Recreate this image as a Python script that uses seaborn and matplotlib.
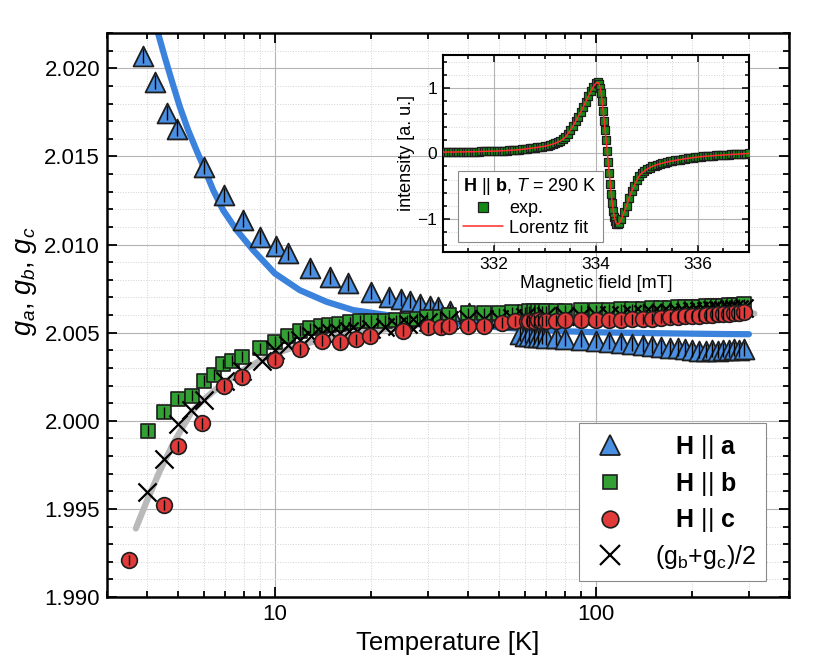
import matplotlib
matplotlib.use('Agg')
import matplotlib.pyplot as plt
from matplotlib import ticker
from matplotlib.lines import Line2D
import seaborn as sns

# ---- g-factors vs temperature ----
T_a = [3.88, 4.23, 4.6, 4.95, 6.03, 6.95, 7.96, 8.98, 10.07, 10.96, 12.9, 14.9, 16.9,
       20.0, 22.7, 24.8, 26.3, 28.3, 30.4, 32.2, 35.1, 40.4, 45.1, 50, 55, 58, 60, 62,
       64, 66, 68, 70, 75, 80, 90, 100, 110, 120, 130, 140, 150, 160, 170, 180, 190,
       200, 210, 220, 230, 240, 250, 260, 270, 280, 290]
g_a = [2.0207, 2.0192, 2.01747, 2.01658, 2.01441, 2.0128, 2.01138, 2.01044, 2.00993,
       2.0095, 2.00865, 2.00817, 2.00779, 2.00728, 2.0070, 2.00691, 2.00677, 2.00663,
       2.00653, 2.00647, 2.00625, 2.00609, 2.00596, 2.0059, 2.0058, 2.0049, 2.00483,
       2.0048, 2.00478, 2.00476, 2.00474, 2.00472, 2.0047, 2.00465, 2.0046, 2.00452,
       2.00445, 2.0044, 2.00435, 2.0043, 2.00425, 2.0042, 2.00415, 2.0041, 2.00405,
       2.0040, 2.00398, 2.00395, 2.0040, 2.00398, 2.00402, 2.0040, 2.00405, 2.00402,
       2.00408]

T_b = [4.03, 4.52, 5.0, 5.53, 6.03, 6.46, 6.9, 7.37, 7.93, 8.98, 10.0, 11.0, 12.0, 12.9,
       13.9, 14.8, 15.9, 17.1, 18.4, 20.0, 22.0, 23.9, 25.8, 27.8, 29.8, 32.7, 35, 40,
       45, 50, 55, 60, 62, 64, 66, 68, 70, 75, 80, 90, 100, 110, 120, 130, 140, 150,
       160, 170, 180, 190, 200, 210, 220, 230, 240, 250, 260, 270, 280, 290]
g_b = [1.99944, 2.00048, 2.00124, 2.00143, 2.00228, 2.00262, 2.00323, 2.00341, 2.00364,
       2.00411, 2.00449, 2.0048, 2.00511, 2.00527, 2.0054, 2.00545, 2.0055, 2.00558,
       2.00568, 2.00568, 2.00568, 2.00572, 2.00572, 2.0058, 2.00587, 2.0059, 2.006,
       2.0061, 2.0061, 2.00612, 2.00615, 2.00618, 2.0062, 2.0062, 2.0062, 2.00621,
       2.00622, 2.00623, 2.00624, 2.00626, 2.00628, 2.0063, 2.00632, 2.00634, 2.00636,
       2.00638, 2.0064, 2.00642, 2.00644, 2.00645, 2.00647, 2.00648, 2.0065, 2.00651,
       2.00652, 2.00653, 2.00655, 2.00656, 2.00658, 2.0066]

T_c = [3.51, 4.52, 5.0, 5.93, 6.94, 7.91, 10.0, 12.0, 14.0, 16.0, 17.9, 19.8, 25.0,
       30.0, 32.9, 35, 40, 45, 51, 56, 61, 62, 64, 66, 68, 70, 75, 80, 90, 100, 110,
       120, 130, 140, 150, 160, 170, 180, 190, 200, 210, 220, 230, 240, 250, 260, 270,
       280, 290]
g_c = [1.99211, 1.99523, 1.99855, 1.99986, 2.002, 2.00251, 2.00347, 2.00405, 2.00455,
       2.00445, 2.00462, 2.00483, 2.00511, 2.0053, 2.0053, 2.0054, 2.0054, 2.0054,
       2.00556, 2.00565, 2.00568, 2.00566, 2.00568, 2.0057, 2.00566, 2.00568, 2.00568,
       2.0057, 2.0057, 2.0057, 2.0057, 2.00572, 2.00575, 2.00578, 2.0058, 2.00583,
       2.00586, 2.0059, 2.00592, 2.00595, 2.00597, 2.006, 2.00602, 2.00604, 2.00606,
       2.00608, 2.0061, 2.00612, 2.00615]

T_avg = [4.0, 4.51, 5.0, 5.48, 6.03, 7.0, 7.88, 9.1, 10, 11, 12, 13, 14, 15, 16, 17, 18,
         20, 22, 24, 26, 28, 30, 35, 40, 45, 50, 55, 60, 70, 80, 90, 100, 110, 120, 130,
         140, 150, 160, 170, 180, 190, 200, 210, 220, 230, 240, 250, 260, 270, 280, 290]
g_avg = [1.99595, 1.99784, 1.99982, 2.00062, 2.00115, 2.00228, 2.00285, 2.00341, 2.0040,
         2.0043, 2.0046, 2.0048, 2.0050, 2.0050, 2.0050, 2.0051, 2.0051, 2.0052, 2.0053,
         2.0054, 2.0055, 2.0055, 2.0056, 2.0057, 2.00575, 2.00575, 2.0058, 2.00585,
         2.00588, 2.00592, 2.00594, 2.00596, 2.00598, 2.006, 2.00602, 2.00605, 2.00607,
         2.00609, 2.00612, 2.00614, 2.00617, 2.00619, 2.00621, 2.00623, 2.00625,
         2.00627, 2.00628, 2.0063, 2.00632, 2.00633, 2.00635, 2.00638]

# error bars
err_a = 0.0004
err_b = 0.0003
err_c = 0.0003

# fitted curves
T_fit_a = [4.33, 4.54, 4.77, 5.06, 5.37, 5.70, 6.03, 6.43, 6.90, 7.60, 8.56, 10.0, 11.96,
           14.49, 17.54, 21.2, 24.9, 30, 40, 50, 60, 80, 100, 150, 200, 250, 300]
g_fit_a = [2.02197, 2.02064, 2.01932, 2.01781, 2.01649, 2.01535, 2.01431, 2.01308,
           2.01195, 2.01082, 2.00968, 2.00836, 2.00741, 2.00675, 2.00628, 2.00606,
           2.00587, 2.0057, 2.00545, 2.0053, 2.0052, 2.00508, 2.00502, 2.00497, 2.00494,
           2.00492, 2.00491]

T_fit_avg = [3.69, 4.0, 4.39, 4.82, 5.5, 6, 7, 8, 9, 10, 12, 14, 17, 20, 25, 30, 40, 60,
             100, 150, 200, 250, 312]
g_fit_avg = [1.99389, 1.99548, 1.99718, 1.99869, 2.0005, 2.0012, 2.0022, 2.0029, 2.0034,
             2.0038, 2.0043, 2.0046, 2.0049, 2.0051, 2.0053, 2.0055, 2.0057, 2.0058,
             2.0059, 2.006, 2.00603, 2.00606, 2.00608]

# ---- inset: ESR line, H || b, T = 290 K ----
field = [331.00, 331.05, 331.10, 331.15, 331.20, 331.25, 331.30, 331.35, 331.40, 331.45,
         331.50, 331.55, 331.60, 331.65, 331.70, 331.75, 331.80, 331.85, 331.90, 331.95,
         332.00, 332.05, 332.10, 332.15, 332.20, 332.25, 332.30, 332.35, 332.40, 332.45,
         332.50, 332.55, 332.60, 332.65, 332.70, 332.75, 332.80, 332.85, 332.90, 332.95,
         333.00, 333.05, 333.10, 333.15, 333.20, 333.25, 333.30, 333.35, 333.40, 333.45,
         333.50, 333.55, 333.60, 333.65, 333.70, 333.75, 333.80, 333.85, 333.90, 333.95,
         334.00, 334.03, 334.06, 334.08, 334.10, 334.12, 334.14, 334.16, 334.18, 334.20,
         334.22, 334.24, 334.26, 334.28, 334.30, 334.32, 334.34, 334.36, 334.38, 334.40,
         334.43, 334.46, 334.50, 334.55, 334.60, 334.65, 334.70, 334.75, 334.80, 334.85,
         334.90, 334.95, 335.00, 335.05, 335.10, 335.15, 335.20, 335.25, 335.30, 335.35,
         335.40, 335.45, 335.50, 335.55, 335.60, 335.65, 335.70, 335.75, 335.80, 335.85,
         335.90, 335.95, 336.00, 336.05, 336.10, 336.15, 336.20, 336.25, 336.30, 336.35,
         336.40, 336.45, 336.50, 336.55, 336.60, 336.65, 336.70, 336.75, 336.80, 336.85,
         336.90, 336.95, 337.00]
intensity = [0.020, 0.020, 0.020, 0.020, 0.020, 0.021, 0.022, 0.023, 0.025, 0.025,
             0.025, 0.025, 0.026, 0.027, 0.028, 0.029, 0.030, 0.031, 0.032, 0.034,
             0.035, 0.036, 0.037, 0.039, 0.040, 0.042, 0.045, 0.047, 0.050, 0.053,
             0.057, 0.061, 0.065, 0.070, 0.075, 0.080, 0.085, 0.091, 0.097, 0.103,
             0.110, 0.120, 0.130, 0.142, 0.155, 0.172, 0.190, 0.218, 0.250, 0.300,
             0.360, 0.420, 0.490, 0.560, 0.630, 0.710, 0.790, 0.870, 0.950, 1.020,
             1.070, 1.085, 1.060, 1.000, 0.920, 0.800, 0.650, 0.500, 0.350, 0.200,
             0.030, -0.130, -0.300, -0.460, -0.620, -0.760, -0.880, -0.970, -1.030, -1.070,
             -1.080, -1.060, -1.000, -0.900, -0.800, -0.680, -0.580, -0.490, -0.410, -0.340,
             -0.300, -0.270, -0.240, -0.220, -0.200, -0.185, -0.170, -0.160, -0.150, -0.140,
             -0.130, -0.122, -0.115, -0.108, -0.100, -0.094, -0.088, -0.081, -0.075, -0.070,
             -0.065, -0.060, -0.055, -0.051, -0.047, -0.043, -0.040, -0.037, -0.035, -0.032,
             -0.030, -0.027, -0.025, -0.022, -0.020, -0.017, -0.015, -0.012, -0.010, -0.008,
             -0.005, -0.003, 0.000]

BLUE = '#4a8fe2'
BLUE_LINE = '#3b82dc'
GREEN = '#33a033'
RED = '#e03a3a'
GRAY = '#b9b9b9'
EDGE = '#1e1e1e'
EXP_GREEN = '#168a16'
FIT_RED = '#ff2a2a'

sns.set_style('ticks')
plt.rcParams['font.family'] = ['Liberation Sans', 'DejaVu Sans']
plt.rcParams['mathtext.fontset'] = 'custom'
plt.rcParams['mathtext.rm'] = 'Liberation Sans'
plt.rcParams['mathtext.it'] = 'Liberation Sans:italic'
plt.rcParams['mathtext.bf'] = 'Liberation Sans:bold'
for key in ['text.color', 'axes.labelcolor', 'xtick.color', 'ytick.color']:
    plt.rcParams[key] = 'black'

fig = plt.figure(figsize=(8.3, 6.64), dpi=100)
ax = fig.add_axes([0.1289, 0.1009, 0.8217, 0.8494])

# fit curves
sns.lineplot(x=T_fit_avg, y=g_fit_avg, ax=ax, color=GRAY, lw=4.5, estimator=None,
             sort=False, solid_capstyle='round', zorder=1)
sns.lineplot(x=T_fit_a, y=g_fit_a, ax=ax, color=BLUE_LINE, lw=4.5, estimator=None,
             sort=False, solid_capstyle='round', zorder=2)

# data
sns.scatterplot(x=T_a, y=g_a, ax=ax, marker='^', s=205, color=BLUE, edgecolor=EDGE,
                linewidth=1.3, zorder=3)
ax.errorbar(T_a, g_a, yerr=err_a, fmt='none', ecolor='black', elinewidth=1, zorder=3.1)
sns.scatterplot(x=T_b, y=g_b, ax=ax, marker='s', s=92, color=GREEN, edgecolor=EDGE,
                linewidth=1.2, zorder=4)
ax.errorbar(T_b, g_b, yerr=err_b, fmt='none', ecolor='black', elinewidth=1, zorder=4.1)
sns.scatterplot(x=T_avg, y=g_avg, ax=ax, marker='x', s=170, color='black',
                linewidth=1.6, zorder=4.5)
sns.scatterplot(x=T_c, y=g_c, ax=ax, marker='o', s=128, color=RED, edgecolor=EDGE,
                linewidth=1.2, zorder=5)
ax.errorbar(T_c, g_c, yerr=err_c, fmt='none', ecolor='black', elinewidth=1, zorder=5.1)

ax.set_xscale('log')
ax.set_xlim(3, 400)
ax.set_ylim(1.990, 2.022)
ax.yaxis.set_major_locator(ticker.MultipleLocator(0.005))
ax.yaxis.set_minor_locator(ticker.MultipleLocator(0.001))
ax.yaxis.set_major_formatter(ticker.FormatStrFormatter('%.3f'))
ax.xaxis.set_major_locator(ticker.LogLocator(base=10))
ax.xaxis.set_minor_locator(ticker.LogLocator(base=10, subs=range(2, 10)))
ax.xaxis.set_major_formatter(ticker.FuncFormatter(lambda v, p: f'{v:g}'))
ax.xaxis.set_minor_formatter(ticker.NullFormatter())

ax.set_axisbelow(True)
ax.grid(which='major', color='#b4b4b4', lw=0.8, ls='-')
ax.grid(which='minor', color='#d2d2d2', lw=0.7, ls=':')

ax.tick_params(which='both', direction='in', top=True, right=True, width=1.3,
               colors='black', labelsize=16, pad=5)
ax.tick_params(which='major', length=7)
ax.tick_params(which='minor', length=4)
for s in ax.spines.values():
    s.set_linewidth(1.8)
    s.set_color('black')

ax.set_xlabel('Temperature [K]', fontsize=18.5, labelpad=4)
ax.set_ylabel(r'$g_a$, $g_b$, $g_c$', fontsize=19.5)
ax.yaxis.set_label_coords(-0.1, 0.56)

handles = [
    Line2D([], [], ls='none', marker='^', ms=14.5, mfc=BLUE, mec=EDGE, mew=1.3),
    Line2D([], [], ls='none', marker='s', ms=10, mfc=GREEN, mec=EDGE, mew=1.2),
    Line2D([], [], ls='none', marker='o', ms=12, mfc=RED, mec=EDGE, mew=1.2),
    Line2D([], [], ls='none', marker='x', ms=14, mec='black', mew=1.6),
]
labels = ['   $\\mathbf{H}$ || $\\mathbf{a}$',
          '   $\\mathbf{H}$ || $\\mathbf{b}$',
          '   $\\mathbf{H}$ || $\\mathbf{c}$',
          '(g$_{\\rm b}$+g$_{\\rm c}$)/2']
leg = ax.legend(handles, labels, loc='lower right', bbox_to_anchor=(0.966, 0.028),
                borderaxespad=0, fontsize=18, frameon=True, fancybox=False,
                edgecolor='#8a8a8a', framealpha=1, labelspacing=0.35,
                handlelength=1.7, handletextpad=0.95, borderpad=0.4)
leg.get_frame().set_linewidth(0.8)
leg.set_zorder(10)

# ---- inset ----
ax_in = fig.add_axes([0.5337, 0.6209, 0.3687, 0.2962])
sns.scatterplot(x=field, y=intensity, ax=ax_in, marker='s', s=40, color=EXP_GREEN,
                edgecolor=EDGE, linewidth=0.9, zorder=3)
sns.lineplot(x=field, y=intensity, ax=ax_in, color=FIT_RED, lw=1.1, estimator=None,
             sort=False, zorder=4)
ax_in.set_xlim(331, 337)
ax_in.set_ylim(-1.5, 1.5)
ax_in.xaxis.set_major_locator(ticker.MultipleLocator(2))
ax_in.xaxis.set_minor_locator(ticker.MultipleLocator(0.5))
ax_in.yaxis.set_major_locator(ticker.MultipleLocator(1))
ax_in.yaxis.set_minor_locator(ticker.MultipleLocator(0.2))
ax_in.set_axisbelow(True)
ax_in.grid(which='major', color='#b4b4b4', lw=0.8, ls='-')
ax_in.grid(which='minor', color='#d2d2d2', lw=0.7, ls=':')
ax_in.tick_params(which='both', direction='in', top=True, right=True, width=1.1,
                  colors='black', labelsize=12.5, pad=4)
ax_in.tick_params(which='major', length=5)
ax_in.tick_params(which='minor', length=3)
for s in ax_in.spines.values():
    s.set_linewidth(1.5)
    s.set_color('black')
ax_in.set_xlabel('Magnetic field [mT]', fontsize=13, labelpad=2)
ax_in.set_ylabel('intensity [a. u.]', fontsize=13, labelpad=2)

in_handles = [
    Line2D([], [], ls='none', marker='s', ms=7, mfc=EXP_GREEN, mec=EDGE, mew=0.9),
    Line2D([], [], color=FIT_RED, lw=1.1),
]
leg2 = ax_in.legend(in_handles, ['exp.', 'Lorentz fit'],
                    title='$\\mathbf{H}$ || $\\mathbf{b}$, $T$ = 290 K',
                    title_fontsize=13, fontsize=13, alignment='left',
                    loc='lower left', bbox_to_anchor=(0.049, 0.049), borderaxespad=0,
                    frameon=True, fancybox=False, edgecolor='#8a8a8a', framealpha=1,
                    handlelength=2.2, handletextpad=0.35, borderpad=0.3,
                    labelspacing=0.15)
leg2.get_frame().set_linewidth(0.8)
leg2.set_zorder(10)

fig.savefig('out.png', dpi=100)
